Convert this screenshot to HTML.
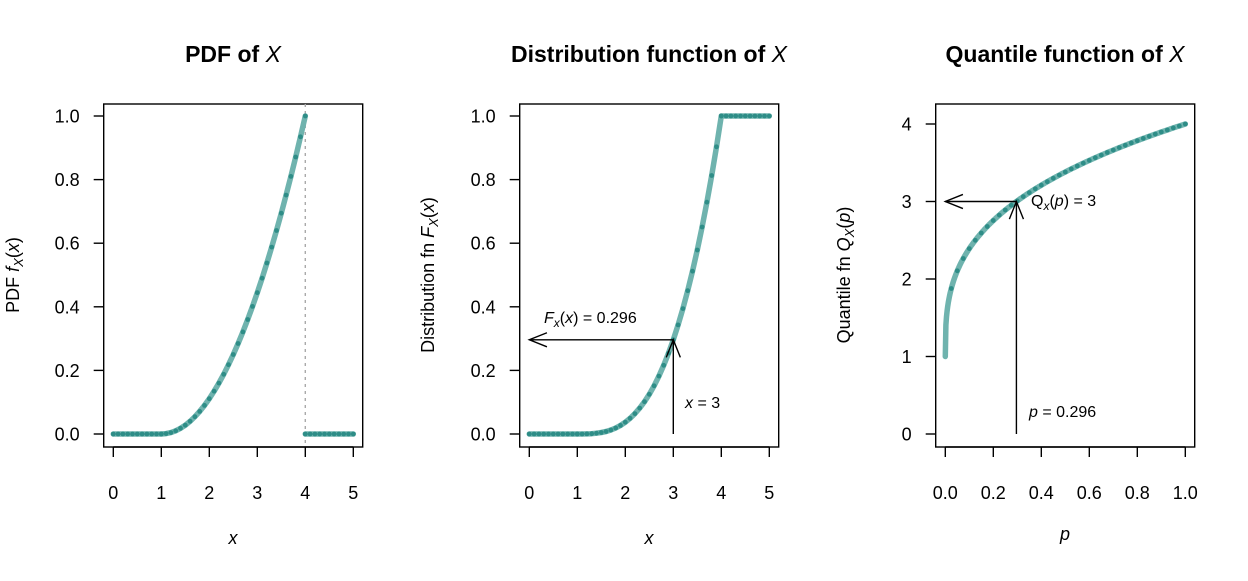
<!DOCTYPE html>
<html><head><meta charset="utf-8"><style>
body{margin:0;background:#fff}
svg text{font-family:"Liberation Sans",Arial,sans-serif;fill:#000}
</style></head><body>
<svg id="s" width="1248" height="576" viewBox="0 0 1248 576" xmlns="http://www.w3.org/2000/svg">
<g font-size="18">
<text x="233" y="62" text-anchor="middle" font-size="23" font-weight="bold">PDF of <tspan font-style="italic" font-weight="normal">X</tspan></text>
<text x="649" y="62" text-anchor="middle" font-size="23" font-weight="bold">Distribution function of <tspan font-style="italic" font-weight="normal">X</tspan></text>
<text x="1065" y="62" text-anchor="middle" font-size="23" font-weight="bold">Quantile function of <tspan font-style="italic" font-weight="normal">X</tspan></text>
<text x="233" y="544" text-anchor="middle" font-style="italic">x</text>
<text x="649" y="544" text-anchor="middle" font-style="italic">x</text>
<text x="1065" y="540" text-anchor="middle" font-style="italic">p</text>
<text transform="translate(19,275) rotate(-90)" text-anchor="middle">PDF <tspan font-style="italic">f</tspan><tspan font-style="italic" font-size="13" dy="4">X</tspan><tspan dy="-4">(</tspan><tspan font-style="italic">x</tspan>)</text>
<text transform="translate(434,275) rotate(-90)" text-anchor="middle">Distribution fn <tspan font-style="italic">F</tspan><tspan font-style="italic" font-size="13" dy="4">X</tspan><tspan dy="-4">(</tspan><tspan font-style="italic">x</tspan>)</text>
<text transform="translate(850,275) rotate(-90)" text-anchor="middle">Quantile fn <tspan font-style="italic">Q</tspan><tspan font-style="italic" font-size="13" dy="4">X</tspan><tspan dy="-4">(</tspan><tspan font-style="italic">p</tspan>)</text>
<text x="544" y="323" font-size="16"><tspan font-style="italic">F</tspan><tspan font-style="italic" font-size="12" dy="4">x</tspan><tspan dy="-4">(</tspan><tspan font-style="italic">x</tspan>) = 0.296</text>
<text x="685" y="408" font-size="16"><tspan font-style="italic">x</tspan> = 3</text>
<text x="1031" y="206" font-size="16">Q<tspan font-style="italic" font-size="12" dy="4">x</tspan><tspan dy="-4">(</tspan><tspan font-style="italic">p</tspan>) = 3</text>
<text x="1029" y="417" font-size="16"><tspan font-style="italic">p</tspan> = 0.296</text>
</g>
<g id="g"></g>
</svg>
<script>
const g=document.getElementById('g');let h='';
function P(f,x0,x1,n,X,Y){let pts=[];for(let i=0;i<=n;i++){let x=x0+(x1-x0)*i/n;pts.push([X(x),Y(f(x))]);}return pts;}
function line(pts){h+=`<polyline points="${pts.map(p=>p[0].toFixed(1)+','+p[1].toFixed(1)).join(' ')}" fill="none" stroke="#6fb3ae" stroke-width="5.5" stroke-linecap="round" stroke-linejoin="round"/>`;}
function dots(pts){pts.forEach(p=>h+=`<circle cx="${p[0].toFixed(1)}" cy="${p[1].toFixed(1)}" r="2.4" fill="#2e8d87"/>`);}
function frame(L,R,xt,xl,X,yt,yl,Y){
 h+=`<rect x="${L}" y="104" width="${R-L}" height="343" fill="none" stroke="#000" stroke-width="1.4"/>`;
 xt.forEach((v,i)=>{let x=X(v);h+=`<line x1="${x}" y1="447" x2="${x}" y2="457" stroke="#000" stroke-width="1.4"/><text x="${x}" y="499" text-anchor="middle" font-size="18">${xl[i]}</text>`;});
 h+=`<line x1="${X(xt[0])}" y1="447" x2="${X(xt[xt.length-1])}" y2="447" stroke="#000" stroke-width="1.4"/>`;
 yt.forEach((v,i)=>{let y=Y(v);h+=`<line x1="${L-10}" y1="${y}" x2="${L}" y2="${y}" stroke="#000" stroke-width="1.4"/><text x="${L-24}" y="${y+6.5}" text-anchor="end" font-size="18">${yl[i]}</text>`;});
}
function arrow(x1,y1,x2,y2){h+=`<line x1="${x1}" y1="${y1}" x2="${x2}" y2="${y2}" stroke="#000" stroke-width="1.4"/>`;
 let a=Math.atan2(y2-y1,x2-x1),l=19,w=0.38;
 h+=`<polyline points="${x2-l*Math.cos(a-w)},${y2-l*Math.sin(a-w)} ${x2},${y2} ${x2-l*Math.cos(a+w)},${y2-l*Math.sin(a+w)}" fill="none" stroke="#000" stroke-width="1.4"/>`;}
const Y1=v=>434-318*v;
const yt=[0,0.2,0.4,0.6,0.8,1],yl=['0.0','0.2','0.4','0.6','0.8','1.0'];
{const X=x=>113.3+48*x;frame(103.7,362.7,[0,1,2,3,4,5],[0,1,2,3,4,5],X,yt,yl,Y1);
 h+=`<line x1="${X(4)}" y1="104" x2="${X(4)}" y2="447" stroke="#aaa" stroke-width="1.4" stroke-dasharray="3,4"/>`;
 let a=P(x=>0,0,1,10,X,Y1),b=P(x=>(x-1)*(x-1)/9,1,4,30,X,Y1),c=P(x=>0,4,5,10,X,Y1);
 line(a.concat(b));line(c);dots(a);dots(b);dots(c);}
{const X=x=>529.3+48*x;frame(519.7,778.7,[0,1,2,3,4,5],[0,1,2,3,4,5],X,yt,yl,Y1);
 let a=P(x=>0,0,1,10,X,Y1),b=P(x=>Math.pow(x-1,3)/27,1,4,30,X,Y1),c=P(x=>1,4,5,10,X,Y1);
 line(a.concat(b,c));dots(a);dots(b);dots(c);
 arrow(X(3),Y1(0),X(3),Y1(8/27));arrow(X(3),Y1(8/27),X(0),Y1(8/27));}
{const X=x=>945.3+240*x,Y=v=>434-77.5*v;
 frame(935.7,1194.7,[0,0.2,0.4,0.6,0.8,1],['0.0','0.2','0.4','0.6','0.8','1.0'],X,[0,1,2,3,4],['0','1','2','3','4'],Y);
 let f=p=>1+3*Math.cbrt(p);
 line(P(f,0,1,400,X,Y));
 dots(P(f,0.025,1,39,X,Y));
 arrow(X(8/27),Y(0),X(8/27),Y(3));arrow(X(8/27),Y(3),X(0),Y(3));}
g.innerHTML=h;
</script>
</body></html>
